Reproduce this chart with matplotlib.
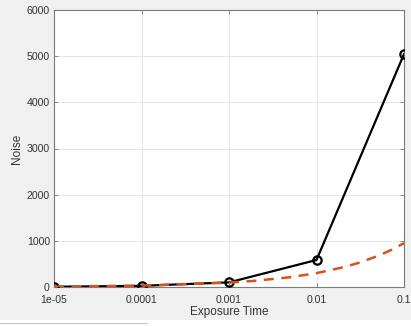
import matplotlib
matplotlib.use("Agg")
import matplotlib.pyplot as plt
from matplotlib.ticker import FixedLocator, NullLocator

plt.rcParams["font.family"] = ["Liberation Sans", "DejaVu Sans"]

# measured noise at each exposure time
exposure = [1e-5, 1e-4, 1e-3, 1e-2, 1e-1]
noise = [5, 25, 100, 585, 5045]

# model curve
model_t = [1e-5, 1e-4, 1e-3, 2e-3, 5e-3, 1e-2, 2e-2, 3e-2, 5e-2, 7e-2, 1e-1]
model_noise = [10, 30, 95, 135, 212, 300, 425, 520, 670, 795, 950]

xtick_labels = ["1e-05", "0.0001", "0.001", "0.01", "0.1"]
yticks = [0, 1000, 2000, 3000, 4000, 5000, 6000]

fig = plt.figure(figsize=(4.11, 3.26), dpi=100)
fig.patch.set_facecolor("#f0f0f0")
# white strip along the bottom edge
fig.patches.append(plt.Rectangle((0, 0), 1, 6 / 326, transform=fig.transFigure,
                                 facecolor="white", edgecolor="none", zorder=0))
fig.lines.append(plt.Line2D([0, 147 / 411], [3 / 326, 3 / 326], transform=fig.transFigure,
                            color="#c8c8c8", linewidth=0.8))

ax = fig.add_axes([54 / 411, 39 / 326, 350 / 411, 277 / 326])
ax.set_facecolor("white")

ax.plot(exposure, noise, color="black", linewidth=1.6, marker="o", markersize=6,
        markerfacecolor="none", markeredgewidth=1.6, zorder=3)
ax.plot(model_t, model_noise, color="#D95319", linewidth=1.8, linestyle=(0, (4, 3)),
        zorder=4)

ax.set_xscale("log")
ax.set_xlim(1e-5, 1e-1)
ax.set_ylim(0, 6000)
ax.xaxis.set_major_locator(FixedLocator(exposure))
ax.xaxis.set_minor_locator(NullLocator())
ax.set_xticklabels(xtick_labels)
ax.set_yticks(yticks)

ax.grid(True, color="#e6e6e6", linewidth=0.7)
ax.set_axisbelow(True)
for s in ax.spines.values():
    s.set_color("#7a7a7a")
    s.set_linewidth(0.8)
ax.tick_params(direction="in", length=3, width=0.6, color="#7a7a7a",
               labelsize=7.6, labelcolor="#333333", top=True, right=True, pad=3)
ax.tick_params(axis="x", pad=6)

ax.set_xlabel("Exposure Time", fontsize=8.5, color="#333333", labelpad=0.5)
ax.set_ylabel("Noise", fontsize=8.5, color="#333333", labelpad=3)

fig.savefig("out.png", dpi=100, facecolor=fig.get_facecolor())
